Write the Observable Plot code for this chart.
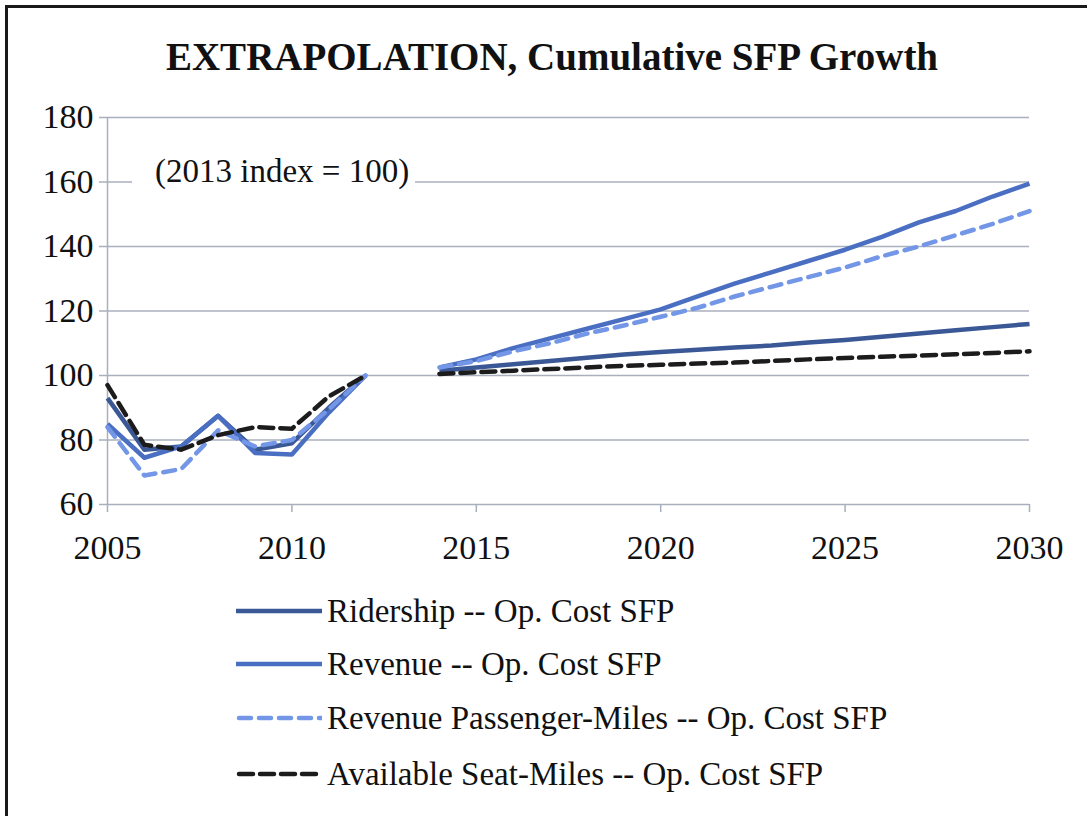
<!DOCTYPE html>
<html><head><meta charset="utf-8">
<script src="https://cdn.jsdelivr.net/npm/d3@7"></script>
<script src="https://cdn.jsdelivr.net/npm/@observablehq/plot@0.6"></script>
<style>
body{margin:0;background:#fff;}
#wrap{position:relative;width:1087px;height:816px;overflow:hidden;font-family:"Liberation Serif","Times New Roman",serif;color:#111;}
#frame{position:absolute;left:5px;top:5px;width:1200px;height:900px;border-left:3px solid #1a1a1a;border-top:3px solid #1a1a1a;}
#title{position:absolute;top:34px;left:0;width:1104px;text-align:center;font-weight:bold;font-size:39px;line-height:46px;}
#chart{position:absolute;left:0;top:0;}
#note{position:absolute;left:132px;top:151px;height:40px;line-height:40px;font-size:33px;background:#fff;padding:0 6px 0 23px;}
.leg{position:absolute;left:236px;height:40px;display:flex;align-items:center;font-size:33px;white-space:nowrap;}
.leg svg{margin-right:5px;}
</style>
</head><body>
<div id="wrap">
<div id="frame"></div>
<div id="chart"></div>
<div id="title">EXTRAPOLATION, Cumulative SFP Growth</div>
<div id="note">(2013 index = 100)</div>
<div id="legend"></div>
</div>
<script>
// ---- data ----
const histYears = [2005, 2006, 2007, 2008, 2009, 2010, 2011, 2012];
const projYears = [2014, 2015, 2016, 2017, 2018, 2019, 2020, 2021, 2022, 2023, 2024, 2025, 2026, 2027, 2028, 2029, 2030];

const ridershipHist = [93, 77, 78, 87.5, 77, 79, 90, 100];
const revenueHist   = [85, 74.5, 78, 87.5, 76, 75.5, 88.5, 100];
const rpmHist       = [84, 69, 71, 83, 78, 80, 89.5, 100];
const asmHist       = [97, 78.5, 77, 81.5, 84, 83.5, 93.5, 100];

const ridershipProj = [101.5, 102.5, 103.5, 104.5, 105.5, 106.5, 107.3, 108, 108.7, 109.3, 110.2, 111, 112, 113, 114, 115, 116];
const revenueProj   = [102.5, 105, 108.5, 111.5, 114.5, 117.5, 120.5, 124.5, 128.5, 132, 135.5, 139, 143, 147.5, 151, 155.5, 159.5];
const rpmProj       = [102.5, 104.5, 107.5, 110, 113, 115.5, 118.2, 121, 124.5, 127.5, 130.5, 133.5, 137, 140, 143.5, 147, 151];
const asmProj       = [100.5, 101, 101.5, 102, 102.5, 103, 103.3, 103.7, 104, 104.5, 105, 105.4, 105.8, 106.2, 106.6, 107, 107.5];

const seriesNames = [
  "Ridership -- Op. Cost SFP",
  "Revenue -- Op. Cost SFP",
  "Revenue Passenger-Miles -- Op. Cost SFP",
  "Available Seat-Miles -- Op. Cost SFP"
];
const seriesColors = ["#3a5796", "#4a6fc2", "#7396e6", "#1c1c1c"];
const seriesDash = [null, null, "12,8", "14,7"];

const yTicks = [60, 80, 100, 120, 140, 160, 180];
const xTicks = [2005, 2010, 2015, 2020, 2025, 2030];

// ---- build table ----
const hist = [ridershipHist, revenueHist, rpmHist, asmHist];
const proj = [ridershipProj, revenueProj, rpmProj, asmProj];
const rows = [];
seriesNames.forEach((name, i) => {
  histYears.forEach((yr, j) => rows.push({series: name, seg: "hist", year: yr, value: hist[i][j]}));
  projYears.forEach((yr, j) => rows.push({series: name, seg: "proj", year: yr, value: proj[i][j]}));
});

const gridColor = "#a8afbd";

const lineMarks = seriesNames.map((name, i) =>
  Plot.line(rows.filter(d => d.series === name), {
    x: "year", y: "value", z: "seg",
    stroke: seriesColors[i], strokeWidth: 4.5,
    strokeDasharray: seriesDash[i] || undefined,
    strokeLinecap: seriesDash[i] ? "round" : "butt",
    strokeLinejoin: "round"
  })
);

const chart = Plot.plot({
  width: 1087,
  height: 570,
  marginLeft: 107,
  marginRight: 58,
  marginTop: 117,
  marginBottom: 66,
  style: {fontFamily: "'Liberation Serif','Times New Roman',serif", fontSize: "34px", color: "#111", background: "transparent", overflow: "visible"},
  x: {domain: [2005, 2030]},
  y: {domain: [60, 180]},
  marks: [
    Plot.ruleY(yTicks, {x1: 2005, x2: 2030, stroke: gridColor, strokeWidth: 1.5}),
    Plot.ruleX([2005], {y1: 60, y2: 180, stroke: gridColor, strokeWidth: 1.5}),
    Plot.axisY({ticks: yTicks, tickSize: 8, tickPadding: 6, stroke: gridColor, strokeWidth: 1.5, fill: "#111", label: null}),
    Plot.axisX({ticks: xTicks, tickSize: 8, tickPadding: 22, tickFormat: d => String(d), stroke: gridColor, strokeWidth: 1.5, fill: "#111", label: null}),
    ...lineMarks
  ]
});
document.getElementById("chart").appendChild(chart);

// ---- legend ----
const legendTops = [591, 644, 698, 754];
const legend = document.getElementById("legend");
seriesNames.forEach((name, i) => {
  const row = document.createElement("div");
  row.className = "leg";
  row.style.top = legendTops[i] + "px";
  const dash = seriesDash[i] ? `stroke-dasharray="${seriesDash[i]}" stroke-linecap="round"` : "";
  row.innerHTML = `<svg width="86" height="10"><line x1="${seriesDash[i] ? 3 : 0}" y1="5" x2="86" y2="5" stroke="${seriesColors[i]}" stroke-width="4.5" ${dash}/></svg><span>${name}</span>`;
  legend.appendChild(row);
});
</script>
</body></html>
